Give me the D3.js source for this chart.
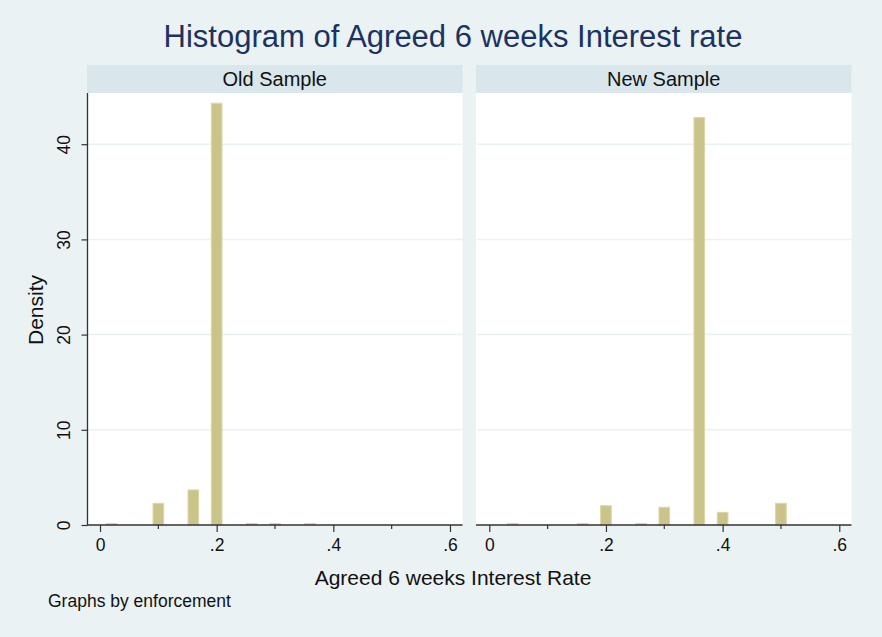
<!DOCTYPE html>
<html>
<head>
<meta charset="utf-8">
<script src="https://cdn.jsdelivr.net/npm/d3@7"></script>
<style>
  html, body { margin: 0; padding: 0; background: #eaf2f3; }
  svg { display: block; font-family: "Liberation Sans", Arial, Helvetica, sans-serif; }
</style>
</head>
<body>
<svg id="chart" width="882" height="637"></svg>
<script>
// Panels (by enforcement)
const panels = ["Old Sample", "New Sample"];

// Histogram bins: bin midpoints and densities per panel (bin width 0.02)
const binWidth = 0.02;
const oldMid = [0.02, 0.10, 0.16, 0.20, 0.26, 0.30, 0.36];
const oldDensity = [0.16, 2.28, 3.68, 44.3, 0.16, 0.16, 0.16];
const newMid = [0.04, 0.16, 0.20, 0.26, 0.30, 0.36, 0.40, 0.50];
const newDensity = [0.16, 0.16, 2.03, 0.16, 1.86, 42.8, 1.33, 2.28];

// Axis ticks
const xMajorTicks = [0, 0.2, 0.4, 0.6];
const xMinorTicks = [0.1, 0.3, 0.5];
const yTicks = [0, 10, 20, 30, 40];

const titleText = "Histogram of Agreed 6 weeks Interest rate";
const xTitle = "Agreed 6 weeks Interest Rate";
const yTitle = "Density";
const note = "Graphs by enforcement";

const panelData = [
  oldMid.map((m, i) => ({ mid: m, d: oldDensity[i] })),
  newMid.map((m, i) => ({ mid: m, d: newDensity[i] }))
];

const svg = d3.select("#chart");
const W = 882, H = 637;

svg.append("rect").attr("width", W).attr("height", H).attr("fill", "#eaf2f3");

// Layout
const plotTop = 93, plotBottom = 525;
const stripTop = 65;
const panelBoxes = [
  { left: 87, right: 462.5, x0: 100 },
  { left: 476, right: 851.5, x0: 489.3 }
];
const pxPerUnit = 583.3;

const y = d3.scaleLinear().domain([0, (plotBottom - plotTop) / 9.52]).range([plotBottom, plotTop]);

const fill = "#cbc48a", outline = "#dcd7a6";
const gridColor = "#eaf1f3", axisColor = "#333";
const font = "'Liberation Sans', Arial, sans-serif";

panelBoxes.forEach((pb, pi) => {
  const x = d3.scaleLinear().domain([0, 0.6]).range([pb.x0, pb.x0 + 0.6 * pxPerUnit]);
  const g = svg.append("g");

  // strip
  g.append("rect").attr("x", pb.left).attr("y", stripTop)
    .attr("width", pb.right - pb.left).attr("height", plotTop - stripTop)
    .attr("fill", "#d9e6ec");
  g.append("text").attr("x", (pb.left + pb.right) / 2).attr("y", 86)
    .attr("text-anchor", "middle").attr("font-size", 20).attr("fill", "#111")
    .text(panels[pi]);

  // plot region
  g.append("rect").attr("x", pb.left).attr("y", plotTop)
    .attr("width", pb.right - pb.left).attr("height", plotBottom - plotTop)
    .attr("fill", "#fff");

  // gridlines
  g.selectAll("line.grid").data(yTicks.filter(t => t > 0)).join("line")
    .attr("class", "grid")
    .attr("x1", pb.left + 1).attr("x2", pb.right)
    .attr("y1", d => y(d)).attr("y2", d => y(d))
    .attr("stroke", gridColor).attr("stroke-width", 1.5);

  // bars
  g.selectAll("rect.bar").data(panelData[pi]).join("rect")
    .attr("class", "bar")
    .attr("x", d => x(d.mid - binWidth / 2) + 0.5)
    .attr("width", d => x(d.mid + binWidth / 2) - x(d.mid - binWidth / 2) - 1)
    .attr("y", d => y(d.d))
    .attr("height", d => plotBottom - y(d.d))
    .attr("fill", fill).attr("stroke", outline).attr("stroke-width", 1);

  // x axis
  const xAxis = d3.axisBottom(x).tickValues(xMajorTicks).tickSize(7).tickSizeOuter(0)
    .tickFormat(d => d === 0 ? "0" : d3.format(".1f")(d).replace(/^0/, ""));
  const xa = g.append("g").attr("transform", `translate(0,${plotBottom})`).call(xAxis);
  xa.select(".domain").remove();
  xa.selectAll(".tick line").attr("stroke", axisColor).attr("stroke-width", 1.2);
  xa.selectAll(".tick text").attr("font-size", 17.5).attr("fill", "#111")
    .attr("font-family", font).attr("y", 26).attr("dy", 0);
  g.append("line").attr("x1", pb.left).attr("x2", pb.right)
    .attr("y1", plotBottom).attr("y2", plotBottom)
    .attr("stroke", axisColor).attr("stroke-width", 1.3);
  g.selectAll("line.minor").data(xMinorTicks).join("line")
    .attr("class", "minor")
    .attr("x1", d => x(d)).attr("x2", d => x(d))
    .attr("y1", plotBottom).attr("y2", plotBottom + 4)
    .attr("stroke", axisColor).attr("stroke-width", 1.2);

  // y axis (first panel only)
  if (pi === 0) {
    const yAxis = d3.axisLeft(y).tickValues(yTicks).tickSize(6).tickSizeOuter(0);
    const ya = g.append("g").attr("transform", `translate(${pb.left + 0.5},0)`).call(yAxis);
    ya.select(".domain").remove();
    ya.selectAll(".tick line").attr("stroke", axisColor).attr("stroke-width", 1.2);
    ya.selectAll(".tick text").remove();
    ya.selectAll(".tick").append("text")
      .attr("transform", "translate(-24,0) rotate(-90)")
      .attr("text-anchor", "middle").attr("dy", "0.36em")
      .attr("font-size", 17.5).attr("fill", "#111")
      .attr("font-family", font)
      .text(d => d);
    g.append("line").attr("x1", pb.left + 0.5).attr("x2", pb.left + 0.5)
      .attr("y1", plotTop).attr("y2", plotBottom)
      .attr("stroke", axisColor).attr("stroke-width", 1.3);
  }
});

// titles
svg.append("text").attr("x", 453).attr("y", 47).attr("text-anchor", "middle")
  .attr("font-size", 31).attr("fill", "#1c3260").text(titleText);

svg.append("text").attr("x", 453).attr("y", 585).attr("text-anchor", "middle")
  .attr("font-size", 21).attr("fill", "#111").text(xTitle);

svg.append("text").attr("transform", "translate(43,310) rotate(-90)")
  .attr("text-anchor", "middle").attr("font-size", 21).attr("fill", "#111").text(yTitle);

svg.append("text").attr("x", 48).attr("y", 607)
  .attr("font-size", 17.5).attr("fill", "#111").text(note);
</script>
</body>
</html>
